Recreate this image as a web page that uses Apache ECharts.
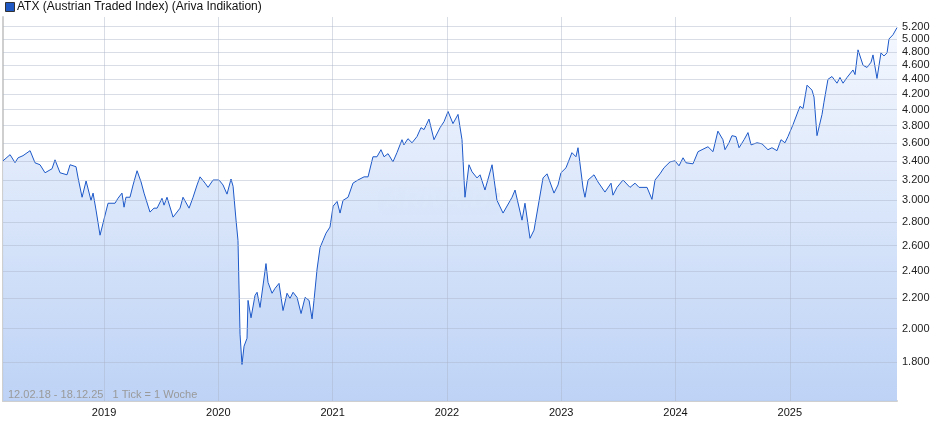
<!DOCTYPE html>
<html><head><meta charset="utf-8">
<script src="https://cdn.jsdelivr.net/npm/echarts@6/dist/echarts.min.js"></script>
<style>html,body{margin:0;padding:0;background:#fff}#c{width:940px;height:435px}</style>
</head><body><div id="c"></div>
<script>
const times = [2018.116,2018.178,2018.221,2018.248,2018.291,2018.353,2018.396,2018.440,2018.484,2018.545,2018.571,2018.615,2018.676,2018.703,2018.755,2018.773,2018.808,2018.843,2018.886,2018.904,2018.930,2018.965,2019.009,2019.035,2019.096,2019.122,2019.157,2019.175,2019.192,2019.227,2019.254,2019.289,2019.324,2019.350,2019.402,2019.437,2019.464,2019.507,2019.525,2019.551,2019.604,2019.665,2019.691,2019.744,2019.779,2019.814,2019.840,2019.884,2019.910,2019.954,2020.006,2020.041,2020.076,2020.111,2020.129,2020.155,2020.172,2020.190,2020.207,2020.225,2020.251,2020.260,2020.286,2020.321,2020.339,2020.365,2020.382,2020.417,2020.435,2020.470,2020.496,2020.531,2020.566,2020.601,2020.627,2020.654,2020.689,2020.724,2020.759,2020.794,2020.820,2020.837,2020.864,2020.890,2020.916,2020.942,2020.977,2021.004,2021.039,2021.065,2021.091,2021.135,2021.178,2021.222,2021.275,2021.310,2021.353,2021.388,2021.423,2021.450,2021.485,2021.528,2021.563,2021.607,2021.624,2021.659,2021.695,2021.738,2021.773,2021.800,2021.843,2021.887,2021.940,2021.975,2022.010,2022.053,2022.097,2022.132,2022.158,2022.193,2022.220,2022.263,2022.290,2022.333,2022.395,2022.438,2022.491,2022.508,2022.570,2022.596,2022.657,2022.683,2022.727,2022.762,2022.841,2022.876,2022.937,2022.972,2022.998,2023.042,2023.094,2023.129,2023.147,2023.191,2023.208,2023.235,2023.287,2023.322,2023.383,2023.436,2023.453,2023.488,2023.541,2023.602,2023.646,2023.681,2023.751,2023.794,2023.821,2023.864,2023.899,2023.952,2023.996,2024.031,2024.066,2024.092,2024.153,2024.197,2024.214,2024.284,2024.328,2024.371,2024.415,2024.433,2024.468,2024.494,2024.529,2024.556,2024.600,2024.634,2024.661,2024.713,2024.757,2024.809,2024.844,2024.888,2024.923,2024.958,2024.984,2025.028,2025.089,2025.116,2025.151,2025.194,2025.212,2025.238,2025.282,2025.299,2025.334,2025.369,2025.413,2025.439,2025.466,2025.501,2025.553,2025.571,2025.597,2025.641,2025.676,2025.711,2025.728,2025.763,2025.798,2025.824,2025.851,2025.868,2025.903,2025.938];
const values = [3400,3467,3380,3433,3456,3511,3379,3358,3274,3316,3411,3274,3253,3358,3337,3221,3030,3190,3000,3070,2909,2687,2864,2973,2973,3020,3070,2936,3030,3030,3150,3295,3180,3070,2891,2927,2927,3020,2955,3030,2845,2927,3030,2927,3030,3150,3232,3168,3126,3200,3200,3150,3060,3210,3137,2818,2643,1964,1785,1891,1939,2186,2069,2221,2243,2138,2138,2456,2314,2236,2271,2307,2117,2236,2200,2243,2207,2097,2207,2186,2062,2186,2414,2584,2643,2704,2757,2945,2990,2882,3000,3030,3168,3200,3232,3232,3444,3444,3522,3444,3478,3389,3489,3635,3576,3647,3600,3671,3776,3753,3880,3635,3776,3850,3975,3825,3938,3635,3030,3358,3284,3221,3253,3100,3358,3000,2882,2864,3030,3100,2818,2973,2661,2730,3221,3263,3070,3150,3274,3326,3489,3444,3544,3120,3030,3200,3253,3180,3080,3168,3050,3126,3200,3126,3168,3126,3126,3010,3200,3263,3326,3389,3400,3347,3433,3379,3368,3500,3522,3555,3500,3735,3635,3522,3600,3682,3671,3544,3635,3718,3576,3600,3588,3522,3544,3511,3635,3600,3671,3812,4040,4013,4320,4253,4160,3682,3938,4093,4400,4440,4347,4427,4347,4427,4533,4467,4831,4600,4569,4646,4754,4413,4785,4738,4785,5000,5067,5183];
const yTicks = [1800,2000,2200,2400,2600,2800,3000,3200,3400,3600,3800,4000,4200,4400,4600,4800,5000,5200];
const years = [2019,2020,2021,2022,2023,2024,2025];
const title = 'ATX (Austrian Traded Index) (Ariva Indikation)';
const footer = '12.02.18 - 18.12.25   1 Tick = 1 Woche';

const fmt = v => String(v).replace(/(\d)(\d{3})$/, '$1.$2');
const chart = echarts.init(document.getElementById('c'));
chart.setOption({
  animation:false,
  grid:{left:3,right:43,top:17,bottom:34},
  xAxis:{type:'value',min:2018.116,max:2025.938,axisLabel:{show:false},axisTick:{show:false},splitLine:{show:false},
    axisLine:{show:true,lineStyle:{color:'#cfcfcf',width:2}}},
  yAxis:{type:'log',min:1590,max:5360,axisLabel:{show:false},axisTick:{show:false},splitLine:{show:false},
    axisLine:{show:true,lineStyle:{color:'#cfcfcf',width:2}}},
  graphic:[
    {type:'rect',z:100,left:5,top:2,shape:{width:9,height:9},style:{fill:'#1f57c3',stroke:'#333',lineWidth:1}},
    {type:'text',z:100,left:17,top:1,style:{text:title,font:'12px "Liberation Sans", Arial, sans-serif',fill:'#111'}},
    {type:'text',z:100,left:8,top:389,style:{text:footer,font:'11px "Liberation Sans", Arial, sans-serif',fill:'#9a9a9a'}},
    {type:'rect',z:1,left:378,top:187,shape:{width:122,height:28,r:7},style:{fill:'rgba(200,210,230,0.3)'}},
    {type:'text',z:1,left:384,top:188,style:{text:'ARIVA.DE',font:'italic bold 26px "Liberation Sans", Arial, sans-serif',fill:'rgba(255,255,255,0.5)'}}
  ],
  series:[{
    type:'line',z:2,data:times.map((t,i)=>[t,values[i]]),showSymbol:false,
    lineStyle:{color:'#1c58c8',width:1},
    areaStyle:{opacity:0.92,color:new echarts.graphic.LinearGradient(0,0,0,1,[{offset:0,color:'#f4f8ff'},{offset:1,color:'#b8cff5'}]),origin:'start'},
    markLine:{silent:true,symbol:'none',animation:false,
      data:[
        ...yTicks.map(v=>({yAxis:v,lineStyle:{color:'rgba(170,180,200,0.45)',type:'solid',width:1},
          label:{show:true,position:'end',distance:5,formatter:fmt(v),color:'#222',fontSize:11,fontFamily:'Liberation Sans, Arial'}})),
        ...years.map(y=>({xAxis:y,lineStyle:{color:'rgba(170,180,200,0.45)',type:'solid',width:1},
          label:{show:true,position:'start',distance:6,formatter:String(y),color:'#111',fontSize:11,fontFamily:'Liberation Sans, Arial'}}))
      ]}
  }]
});
</script></body></html>
